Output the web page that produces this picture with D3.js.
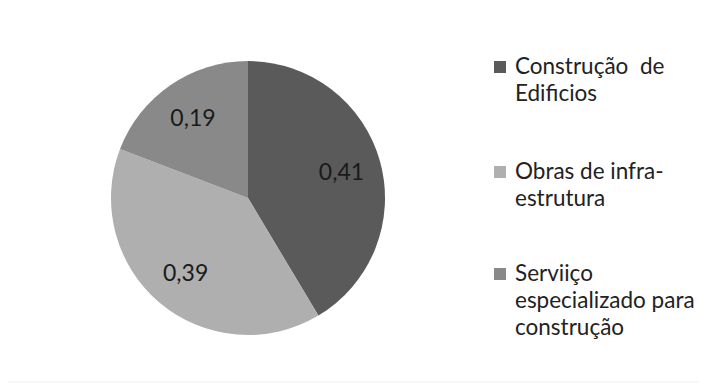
<!DOCTYPE html>
<html>
<head>
<meta charset="utf-8">
<script src="https://cdn.jsdelivr.net/npm/d3@7"></script>
<style>
  body { margin: 0; background: #fff; }
  svg { display: block; }
</style>
</head>
<body>
<svg width="708" height="385"></svg>
<script>
const categories = ['Construção de Edificios', 'Obras de infra-estrutura', 'Serviiço especializado para construção']
const values = [0.41, 0.39, 0.19]
const valueLabels = ['0,41', '0,39', '0,19']
// legend text, broken the way the original wraps it
const legendLines = [
    ['Construção  de', 'Edificios'],
    ['Obras de infra-', 'estrutura'],
    ['Serviiço', 'especializado para', 'construção']
]
const colors = ['#5a5a5a', '#afafaf', '#898989']

const width = 708, height = 385
const cx = 248, cy = 198, radius = 137

const svg = d3.select('svg')

const color = d3.scaleOrdinal()
    .domain(categories)
    .range(colors)

const pie = d3.pie()
    .sort(null)
    .value(d => d.value)

const data = categories.map((c, i) => ({ name: c, value: values[i], label: valueLabels[i] }))

const arc = d3.arc()
    .innerRadius(0)
    .outerRadius(radius)

const labelArc = d3.arc()
    .innerRadius(97)
    .outerRadius(97)

const g = svg.append('g')
    .attr('transform', `translate(${cx},${cy})`)

g.selectAll('path')
    .data(pie(data))
    .enter()
    .append('path')
    .attr('d', arc)
    .attr('fill', d => color(d.data.name))

g.selectAll('text')
    .data(pie(data))
    .enter()
    .append('text')
    .attr('transform', d => `translate(${labelArc.centroid(d)})`)
    .attr('text-anchor', 'middle')
    .attr('dy', '0.36em')
    .style('font-family', 'Lato, "Noto Sans", sans-serif')
    .style('font-size', '23px')
    .style('fill', '#1a1a1a')
    .text(d => d.data.label)

// legend
const legendY = [74, 179, 281]
const lineH = 27

const legend = svg.append('g')
    .selectAll('g')
    .data(data)
    .enter()
    .append('g')
    .attr('transform', (d, i) => `translate(494,${legendY[i]})`)

legend.append('rect')
    .attr('x', 0)
    .attr('y', -13)
    .attr('width', 12)
    .attr('height', 12)
    .attr('fill', d => color(d.name))

legend.append('text')
    .style('font-family', 'Lato, "Noto Sans", sans-serif')
    .style('font-size', '22.5px')
    .style('fill', '#222')
    .attr('xml:space', 'preserve')
    .selectAll('tspan')
    .data((d, i) => legendLines[i])
    .enter()
    .append('tspan')
    .attr('x', 21)
    .attr('y', (d, j) => j * lineH)
    .text(d => d)

svg.append('line')
    .attr('x1', 8).attr('x2', 700)
    .attr('y1', 382).attr('y2', 382)
    .attr('stroke', '#f1f1f1')
</script>
</body>
</html>
